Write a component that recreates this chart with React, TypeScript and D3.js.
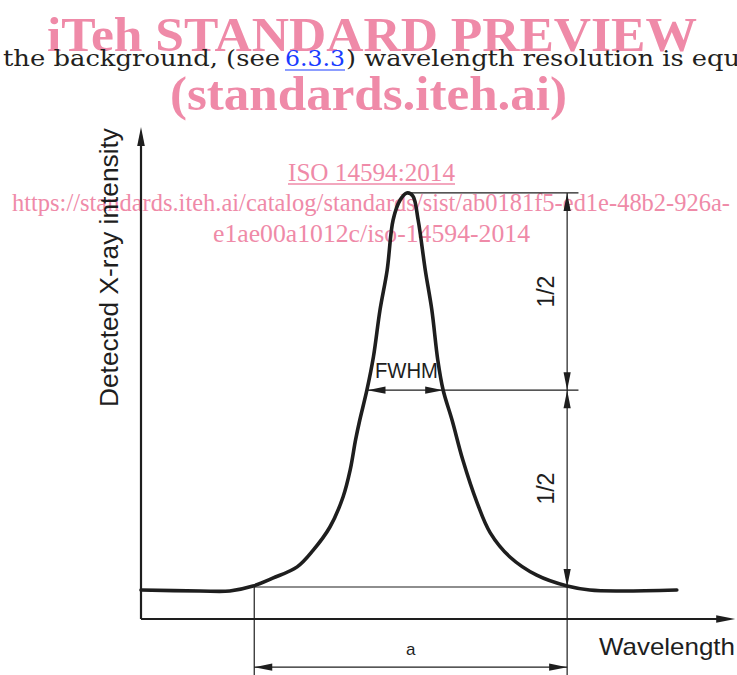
import React from "react";
import * as d3 from "d3";

// ---- data (arbitrary units: wavelength 0..100, intensity 0..100) ----
const wavelength = [0, 9.9, 14.9, 18.8, 22.1, 26.2, 28.9, 31.7, 33.9, 35.1, 36.0, 36.7, 37.9, 39.0, 40.1, 41.3, 42.3, 43.5, 44.6, 45.6, 46.5, 47.7, 48.8, 49.8, 50.7, 52.2, 54.0, 56.4, 58.6, 61.9, 66.4, 71.5, 75.3, 80.4, 89.9];
const intensity = [5.9, 5.7, 5.7, 6.7, 8.3, 10.6, 14.0, 18.7, 24.8, 30.3, 36.4, 40.4, 46.5, 53.3, 62.8, 70.9, 81.1, 85.2, 86.6, 86.0, 81.1, 70.9, 62.8, 52.6, 46.5, 40.4, 32.3, 23.6, 17.5, 12.6, 8.9, 6.7, 5.9, 5.7, 5.9];

// annotation levels / positions (data units)
const peakLevel = 86.6;
const halfLevel = 46.5;
const baseLevel = 6.5;
const peakW = 45.2;
const fwhmLeftW = 38.0;
const fwhmRightW = 50.7;
const baseLeftW = 19.0;
const dimW = 71.5;
const extEndW = 73.4;
const belowAxisEnd = -11.5;
const aDimLevel = -9.8;
const aLabelLevel = -7.3;
const halfLabelW = 68.0;

const xLabel = "Wavelength";
const yLabel = "Detected X-ray intensity";
const fwhmLabel = "FWHM";
const halfLabel = "1/2";
const aLabel = "a";

const W = 737;
const H = 675;

const pink = "rgb(239,138,168)";
const ink = "#1e1e1e";

function arrowPath(tx: number, ty: number, dx: number, dy: number, len = 18, hw = 3.6) {
  // tip at (tx,ty), pointing in direction (dx,dy)
  const bx = tx - dx * len;
  const by = ty - dy * len;
  const px = -dy * hw;
  const py = dx * hw;
  return `M${tx},${ty}L${bx + px},${by + py}L${bx - px},${by - py}Z`;
}

export default function App() {
  const x = d3.scaleLinear().domain([0, 100]).range([141, 737]);
  const y = d3.scaleLinear().domain([0, 100]).range([619, 127]);

  const pts: [number, number][] = wavelength.map((w, i) => [w, intensity[i]]);
  const line = d3
    .line<[number, number]>()
    .x((d) => x(d[0]))
    .y((d) => y(d[1]))
    .curve(d3.curveCatmullRom.alpha(0.5));

  const x0 = x(0);
  const y0 = y(0);
  const xEnd = x(99.7);
  const yTop = y(100);

  const xp = x(peakW);
  const xd = x(dimW);
  const xe = x(extEndW);
  const xl = x(baseLeftW);
  const yp = y(peakLevel);
  const yh = y(halfLevel);
  const yb = y(baseLevel);
  const yBelow = y(belowAxisEnd);
  const yA = y(aDimLevel);

  const thin = 1.2;

  return (
    <svg
      width={W}
      height={H}
      style={{ position: "absolute", left: 0, top: 0, background: "#fff" }}
    >
      <rect x={0} y={0} width={W} height={H} fill="#fff" />

      {/* watermark texts */}
      <g fill={pink} fontFamily="'Liberation Serif', serif">
        <text x={47} y={51} fontSize={49} fontWeight="bold" textLength={650} lengthAdjust="spacingAndGlyphs">
          iTeh STANDARD PREVIEW
        </text>
        <text x={170} y={110} fontSize={49} fontWeight="bold" textLength={397} lengthAdjust="spacingAndGlyphs">
          (standards.iteh.ai)
        </text>
        <text x={288} y={181} fontSize={25} textLength={167} lengthAdjust="spacingAndGlyphs">
          ISO 14594:2014
        </text>
        <line x1={288} x2={455} y1={184} y2={184} stroke={pink} strokeWidth={1.3} />
        <text x={12} y={211} fontSize={25} textLength={718} lengthAdjust="spacingAndGlyphs">
          https://standards.iteh.ai/catalog/standards/sist/ab0181f5-ed1e-48b2-926a-
        </text>
        <text x={213} y={242} fontSize={25} textLength={317} lengthAdjust="spacingAndGlyphs">
          e1ae00a1012c/iso-14594-2014
        </text>
      </g>

      {/* top body text */}
      <g fontFamily="'DejaVu Serif', serif" fontSize={22} fill="#231f20">
        <text x={3} y={66} textLength={277} lengthAdjust="spacingAndGlyphs">
          the background, (see
        </text>
        <text x={285} y={66} textLength={60} lengthAdjust="spacingAndGlyphs" fill="#1a3cff">
          6.3.3
        </text>
        <line x1={285} x2={345} y1={70} y2={70} stroke="#1a3cff" strokeWidth={1.2} />
        <text x={346} y={66} textLength={394} lengthAdjust="spacingAndGlyphs">
          ) wavelength resolution is equ
        </text>
      </g>

      {/* axes */}
      <g stroke={ink} strokeWidth={2.2} fill="none">
        <line x1={x0} x2={x0} y1={y0} y2={yTop + 10} />
        <line x1={x0} x2={xEnd - 10} y1={y0} y2={y0} />
      </g>
      <path d={arrowPath(x0, yTop, 0, -1, 19, 3.8)} fill={ink} />
      <path d={arrowPath(xEnd, y0, 1, 0, 19, 3.8)} fill={ink} />

      {/* dimension / extension lines */}
      <g stroke={ink} strokeWidth={thin} fill="none">
        <line x1={xp} x2={xe} y1={yp} y2={yp} />
        <line x1={x(fwhmLeftW)} x2={xe} y1={yh} y2={yh} />
        <line x1={xl} x2={xd} y1={yb} y2={yb} />
        <line x1={xd} x2={xd} y1={yp} y2={yBelow} />
        <line x1={xl} x2={xl} y1={yb} y2={yBelow} />
        <line x1={xl} x2={xd} y1={yA} y2={yA} />
      </g>
      <g fill={ink}>
        <path d={arrowPath(xd, yp, 0, -1)} />
        <path d={arrowPath(xd, yh, 0, 1)} />
        <path d={arrowPath(xd, yh, 0, -1)} />
        <path d={arrowPath(xd, yb, 0, 1)} />
        <path d={arrowPath(x(fwhmLeftW), yh, -1, 0)} />
        <path d={arrowPath(x(fwhmRightW), yh, 1, 0)} />
        <path d={arrowPath(xl, yA, -1, 0)} />
        <path d={arrowPath(xd, yA, 1, 0)} />
      </g>

      {/* peak curve */}
      <path d={line(pts) || ""} fill="none" stroke={ink} strokeWidth={3.6} strokeLinecap="round" strokeLinejoin="round" />

      {/* labels */}
      <g fontFamily="'Liberation Sans', Arial, sans-serif" fill={ink}>
        <text x={375} y={378} fontSize={22} textLength={63} lengthAdjust="spacingAndGlyphs">
          {fwhmLabel}
        </text>
        <text
          transform={`translate(${x(halfLabelW) + 8},${y((peakLevel + halfLevel) / 2)}) rotate(-90)`}
          textAnchor="middle"
          fontSize={23}
        >
          {halfLabel}
        </text>
        <text
          transform={`translate(${x(halfLabelW) + 8},${y((halfLevel + baseLevel) / 2)}) rotate(-90)`}
          textAnchor="middle"
          fontSize={23}
        >
          {halfLabel}
        </text>
        <text x={(xl + xd) / 2} y={y(aLabelLevel)} textAnchor="middle" fontSize={17}>
          {aLabel}
        </text>
        <text x={599} y={655} fontSize={24} textLength={136} lengthAdjust="spacingAndGlyphs">
          {xLabel}
        </text>
        <text
          transform={`translate(118,${(128 + 407) / 2}) rotate(-90)`}
          textAnchor="middle"
          fontSize={26}
          textLength={279}
          lengthAdjust="spacingAndGlyphs"
        >
          {yLabel}
        </text>
      </g>
    </svg>
  );
}
